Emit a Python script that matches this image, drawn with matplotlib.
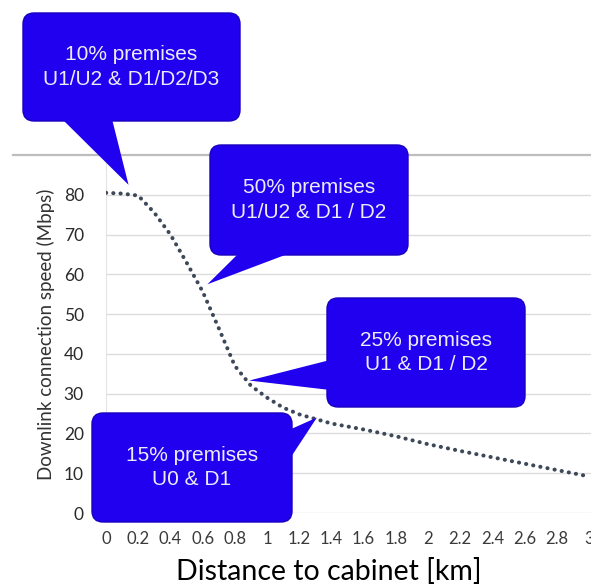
import matplotlib
matplotlib.use("Agg")
import matplotlib.pyplot as plt
from matplotlib.patches import FancyBboxPatch, Polygon
from matplotlib.lines import Line2D

# distance to cabinet (km) and downlink speed (Mbps)
distance_km = [0, 0.1, 0.2, 0.3, 0.4, 0.5, 0.6, 0.7, 0.8, 0.9, 1.0, 1.1, 1.2,
               1.4, 1.6, 1.8, 2.0, 2.2, 2.4, 2.6, 2.8, 3.0]
speed_mbps = [80.5, 80.3, 79.8, 75.5, 70, 63, 55.7, 46.5, 37, 32, 29, 26.5, 24.8,
              22.5, 21, 19.3, 17.3, 15.6, 14, 12.4, 10.8, 9.2]

x_ticks = [0, 0.2, 0.4, 0.6, 0.8, 1, 1.2, 1.4, 1.6, 1.8, 2, 2.2, 2.4, 2.6, 2.8, 3]
x_tick_labels = ["0", "0.2", "0.4", "0.6", "0.8", "1", "1.2", "1.4", "1.6", "1.8",
                 "2", "2.2", "2.4", "2.6", "2.8", "3"]
y_ticks = [0, 10, 20, 30, 40, 50, 60, 70, 80]

bubble_texts = ["10% premises\nU1/U2 & D1/D2/D3",
                "50% premises\nU1/U2 & D1 / D2",
                "25% premises\nU1 & D1 / D2",
                "15% premises\nU0 & D1"]
# where each callout points to on the curve (km, Mbps)
bubble_tips = [(0.14, 82.5), (0.63, 57.5), (0.89, 33.3), (1.31, 24)]

W, H = 591, 586
BLUE = "#2000ee"

fig = plt.figure(figsize=(W / 100, H / 100), dpi=100)
ax = fig.add_axes([106 / W, 1 - 513 / H, (W - 106) / W, (513 - 155) / H])

ax.plot(distance_km, speed_mbps, color="#3d4858", lw=2.9,
        linestyle=(0, (0.05, 1.75)), dash_capstyle="round", zorder=3)

ax.set_xlim(0, (W - 106) / 161)
ax.set_ylim(0, 90)
ax.set_xticks(x_ticks)
ax.set_xticklabels(x_tick_labels)
ax.set_yticks(y_ticks)
ax.grid(axis="y", color="#dcdcdc", lw=1)
ax.set_axisbelow(True)
for s in ["top", "right", "bottom"]:
    ax.spines[s].set_visible(False)
ax.spines["left"].set_color("#e4e4e4")
ax.tick_params(axis="both", length=0)
ax.tick_params(axis="y", pad=16, labelsize=12.5, labelcolor="#2a2a2a")
ax.tick_params(axis="x", pad=13, labelsize=12, labelcolor="#3a3a3a")
for lab in ax.get_xticklabels() + ax.get_yticklabels():
    lab.set_family("Lato")

ax.set_ylabel("Downlink connection speed (Mbps)", family="Lato", fontsize=13.5,
              color="#333333")
ax.yaxis.set_label_coords(-(106 - 55) / (W - 106), 0.5)

# grey rule across the top of the chart
fig.add_artist(Line2D([13 / W, 1], [1 - 155 / H, 1 - 155 / H],
                      color="#bdbdbd", lw=1.6))

fig.text(329 / W, 1 - 571 / H, "Distance to cabinet [km]", family="Lato",
         fontsize=20.5, ha="center", va="center", color="black")

# overlay in pixel units for the callout bubbles
ov = fig.add_axes([0, 0, 1, 1], zorder=5)
ov.set_xlim(0, W)
ov.set_ylim(H, 0)
ov.axis("off")

# box (x0, y0, x1, y1) and pointer base points, in pixels
boxes = [(23, 13, 240, 121), (210, 145, 408, 255), (327, 298, 525, 407), (92, 413, 292, 522)]
bases = [[(62, 119), (112, 119)], [(240, 252), (293, 252)],
         [(330, 360), (330, 390)], [(289, 430), (289, 460)]]

for text, tip, box, base in zip(bubble_texts, bubble_tips, boxes, bases):
    x0, y0, x1, y1 = box
    ov.add_patch(FancyBboxPatch((x0, y0), x1 - x0, y1 - y0,
                                boxstyle="round,pad=0,rounding_size=11",
                                fc=BLUE, ec="#1800c0", lw=1))
    tp = ov.transData.inverted().transform(ax.transData.transform(tip))
    ov.add_patch(Polygon([base[0], tuple(tp), base[1]], closed=True,
                         fc=BLUE, ec="none"))
    ov.text((x0 + x1) / 2, (y0 + y1) / 2, text, ha="center", va="center",
            fontsize=15, color="#ececf8", family="Liberation Sans",
            linespacing=1.35)

fig.savefig("out.png", dpi=100)
